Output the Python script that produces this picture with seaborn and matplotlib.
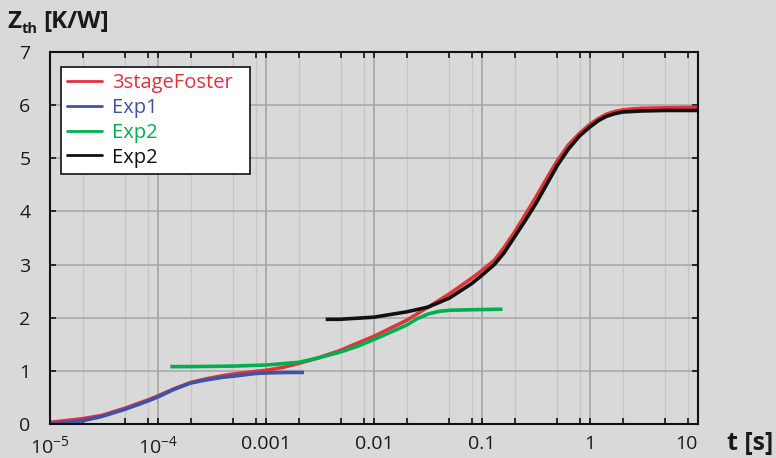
import numpy as np
import pandas as pd
import matplotlib
matplotlib.use("Agg")
import matplotlib.pyplot as plt
from matplotlib.ticker import FixedLocator, NullFormatter
from matplotlib.lines import Line2D
import seaborn as sns

# Thermal impedance curves Zth(t)
t_foster = [1e-5, 2e-5, 3e-5, 5e-5, 8e-5, 1e-4, 1.4e-4, 2e-4, 2.8e-4, 4e-4,
            5e-4, 8e-4, 1e-3, 1.4e-3, 2e-3, 3e-3, 4.8e-3, 7e-3, 0.01, 0.02,
            0.0317, 0.05, 0.08, 0.1, 0.13, 0.16, 0.2, 0.25, 0.316, 0.4, 0.5,
            0.63, 0.8, 1.0, 1.2, 1.42, 1.7, 2.0, 2.5, 3.0, 5.0, 10.0]
z_foster = [0.03, 0.10, 0.16, 0.30, 0.45, 0.53, 0.66, 0.78, 0.85, 0.91,
            0.94, 0.99, 1.01, 1.06, 1.14, 1.24, 1.38, 1.52, 1.65, 1.95,
            2.20, 2.45, 2.74, 2.89, 3.08, 3.32, 3.61, 3.93, 4.27, 4.63, 4.96,
            5.25, 5.47, 5.64, 5.75, 5.83, 5.88, 5.91, 5.93, 5.94, 5.95, 5.96]

t_exp1 = [1.02e-5, 2e-5, 3e-5, 5e-5, 8e-5, 1e-4, 1.4e-4, 2e-4, 2.8e-4, 4e-4,
          5e-4, 8e-4, 1e-3, 1.5e-3, 2.25e-3]
z_exp1 = [0.00, 0.06, 0.14, 0.28, 0.43, 0.51, 0.65, 0.77, 0.83, 0.88,
          0.90, 0.95, 0.96, 0.97, 0.97]

t_exp2 = [1.3e-4, 2e-4, 5e-4, 1e-3, 2e-3, 3e-3, 4.8e-3, 7e-3, 0.01, 0.014,
          0.02, 0.025, 0.0317, 0.04, 0.05, 0.08, 0.155]
z_exp2 = [1.08, 1.08, 1.09, 1.11, 1.16, 1.24, 1.35, 1.46, 1.59, 1.72,
          1.86, 1.98, 2.07, 2.12, 2.14, 2.15, 2.16]

t_exp2b = [3.57e-3, 4.8e-3, 0.01, 0.02, 0.0317, 0.05, 0.08, 0.1, 0.13, 0.16,
           0.2, 0.25, 0.316, 0.4, 0.5, 0.63, 0.8, 1.0, 1.2, 1.42, 1.7, 2.0,
           3.0, 5.0, 10.0]
z_exp2b = [1.97, 1.97, 2.01, 2.11, 2.20, 2.37, 2.64, 2.80, 3.00, 3.22,
           3.52, 3.82, 4.15, 4.52, 4.87, 5.17, 5.42, 5.59, 5.71, 5.79, 5.84,
           5.87, 5.89, 5.90, 5.90]

series = [
    ("3stageFoster", t_foster, z_foster, "#e2323a"),
    ("Exp1", t_exp1, z_exp1, "#3f52a8"),
    ("Exp2", t_exp2, z_exp2, "#00b04f"),
    ("Exp2 ", t_exp2b, z_exp2b, "#111111"),
]
legend_labels = ["3stageFoster", "Exp1", "Exp2", "Exp2"]

x_ticks = [1e-5, 1e-4, 1e-3, 1e-2, 1e-1, 1, 10]
x_ticklabels = ["10$^{-5}$", "10$^{-4}$", "0.001", "0.01", "0.1", "1", "10"]
y_ticks = [0, 1, 2, 3, 4, 5, 6, 7]

bg = "#d9d9d9"
ink = "#1a1a1a"
sns.set_theme(style="white")
plt.rcParams["font.family"] = ["Open Sans", "DejaVu Sans"]
plt.rcParams["mathtext.fontset"] = "custom"
plt.rcParams["mathtext.rm"] = "Open Sans"
plt.rcParams["mathtext.it"] = "Open Sans:italic"
plt.rcParams["mathtext.bf"] = "Open Sans:bold"

fig = plt.figure(figsize=(7.76, 4.58), dpi=100, facecolor=bg)
ax = fig.add_axes([50 / 776, 1 - 424 / 458, 648 / 776, 372 / 458])
ax.set_facecolor(bg)

frames = [pd.DataFrame({"t": t, "Z": z, "series": name})
          for name, t, z, _ in series]
df = pd.concat(frames, ignore_index=True)
palette = {name: c for name, _, _, c in series}
sns.lineplot(data=df, x="t", y="Z", hue="series", palette=palette,
             estimator=None, sort=False, linewidth=2.6, ax=ax, legend=False)
for ln in ax.get_lines():
    ln.set_solid_capstyle("butt")
    ln.set_solid_joinstyle("round")

ax.set_xscale("log")
ax.set_xlim(1e-5, 10)
ax.set_ylim(0, 7)

# minor positions at 2, 5, 8 of each decade
minor = [m * 10.0 ** d for d in range(-5, 1) for m in (2, 5, 8)]
ax.xaxis.set_major_locator(FixedLocator(x_ticks))
ax.xaxis.set_minor_locator(FixedLocator(minor))
ax.xaxis.set_minor_formatter(NullFormatter())
ax.set_xticklabels(x_ticklabels)
ax.get_xticklabels()[-1].set_horizontalalignment("right")
ax.yaxis.set_major_locator(FixedLocator(y_ticks))

ax.grid(which="major", axis="x", color="#a8a8a8", linewidth=1.3)
ax.grid(which="minor", axis="x", color="#c6c6c6", linewidth=1.0)
ax.grid(which="major", axis="y", color="#adadad", linewidth=1.3)
ax.set_axisbelow(True)

ax.tick_params(axis="both", which="both", direction="in", top=True, right=True,
               bottom=True, left=True, color="#111111", width=1.2)
ax.tick_params(axis="both", which="major", length=4, labelsize=14,
               labelcolor=ink)
ax.tick_params(axis="x", which="major", pad=8)
ax.tick_params(axis="y", which="major", pad=14)
ax.tick_params(axis="x", which="minor", length=4)

for s in ax.spines.values():
    s.set_color("#111111")
    s.set_linewidth(1.5)

ax.set_xlabel("")
ax.set_ylabel("")

# legend box spanning a fixed width
handles = [Line2D([], [], color=c, linewidth=2.0) for _, _, _, c in series]
leg = ax.legend(handles, legend_labels, loc="upper left",
                bbox_to_anchor=(11 / 648, 0, 189 / 648, 357 / 372),
                mode="expand", borderaxespad=0, frameon=True, fancybox=False,
                framealpha=1, facecolor="white", edgecolor="#111111",
                fontsize=14.5, handlelength=1.75, handletextpad=0.5,
                labelspacing=0.24, borderpad=0.3)
leg.get_frame().set_linewidth(1.2)
for txt, (_, _, _, c) in zip(leg.get_texts(), series):
    txt.set_color(c)

# axis titles
fig.text(7 / 776, 1 - 28 / 458, "Z", fontsize=17.5, fontweight="bold",
         color=ink, ha="left", va="baseline")
fig.text(22 / 776, 1 - 33 / 458, "th", fontsize=10.5, fontweight="bold",
         color=ink, ha="left", va="baseline")
fig.text(43 / 776, 1 - 28 / 458, "[K/W]", fontsize=17.5, fontweight="bold",
         color=ink, ha="left", va="baseline")
fig.text(727 / 776, 1 - 450 / 458, "t [s]", fontsize=18, fontweight="bold",
         color=ink, ha="left", va="baseline")

fig.savefig("out.png", dpi=100, facecolor=bg)
